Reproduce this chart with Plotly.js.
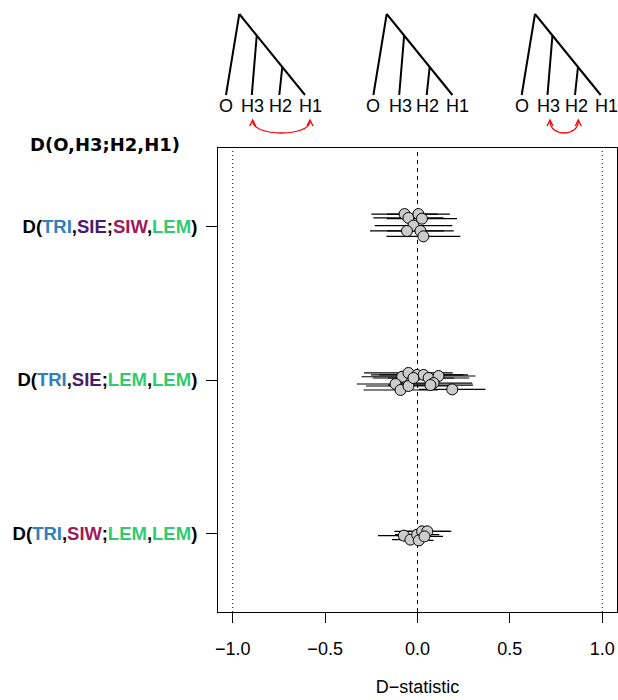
<!DOCTYPE html>
<html>
<head>
<meta charset="utf-8">
<script src="https://cdn.plot.ly/plotly-3.0.1.min.js"></script>
<style>html,body{margin:0;padding:0;background:#fff;}</style>
</head>
<body>
<div id="chart" style="width:618px;height:700px;"></div>
<script>
// ---- data ----
const groupPos = [3, 2, 1];
const outgroup = ['TRI', 'TRI', 'TRI'];
const h3 = ['SIE', 'SIE', 'SIW'];
const h2 = ['SIW', 'LEM', 'LEM'];
const h1 = ['LEM', 'LEM', 'LEM'];

// group 1: D(TRI,SIE;SIW,LEM)
const d1   = [-0.070, -0.049, 0.005, 0.024, -0.022, -0.057, 0.016, 0.032];
const jit1 = [0.080, 0.055, 0.080, 0.050, 0.005, -0.030, -0.030, -0.065];
const err1 = [0.18, 0.19, 0.17, 0.19, 0.21, 0.20, 0.18, 0.20];
// group 2: D(TRI,SIE;LEM,LEM)
const d2   = [-0.083, -0.049, -0.002, 0.033, 0.060, 0.114, 0.087, -0.119, -0.092, -0.049, -0.022, 0.070, 0.188];
const jit2 = [0.021, 0.046, 0.033, 0.033, 0.013, 0.026, -0.020, -0.026, -0.065, -0.039, 0.013, -0.033, -0.061];
const err2 = [0.22, 0.24, 0.25, 0.24, 0.22, 0.20, 0.21, 0.21, 0.20, 0.23, 0.22, 0.23, 0.18];
// group 3: D(TRI,SIW;LEM,LEM)
const d3   = [-0.074, -0.038, -0.002, 0.025, 0.053, 0.007, 0.038];
const jit3 = [-0.013, -0.039, -0.007, 0.015, 0.015, -0.044, -0.018];
const err3 = [0.14, 0.10, 0.12, 0.15, 0.13, 0.08, 0.10];

const xTicks = [-1.0, -0.5, 0.0, 0.5, 1.0];
const xTickText = ['\u22121.0', '\u22120.5', '0.0', '0.5', '1.0'];
const treeLeaves = ['O', 'H3', 'H2', 'H1'];

const taxonColor = {TRI: '#2f7fbb', SIE: '#4a1b6c', SIW: '#9c1c5b', LEM: '#2fcc6f'};

// ---- helpers ----
const W = 618, H = 700, L = 218, R = 1, T = 148, B = 88;
const pw = W - L - R, ph = H - T - B;
const px = x => (x - L) / pw;
const py = y => (H - B - y) / ph;

function col(t) { return '<span style="color:' + taxonColor[t] + '">' + t + '</span>'; }
const tickText = groupPos.map((g, i) =>
  '<b>D(' + col(outgroup[i]) + ',' + col(h3[i]) + ';' + col(h2[i]) + ',' + col(h1[i]) + ')</b>');

const groups = [[d1, jit1, err1], [d2, jit2, err2], [d3, jit3, err3]];
const traces = groups.map((g, i) => ({
  type: 'scatter', mode: 'markers',
  x: g[0], y: g[1].map(j => groupPos[i] + j),
  error_x: {type: 'data', symmetric: true, array: g[2], color: '#000', thickness: 1.2, width: 0},
  marker: {size: 11, color: '#cccccc', line: {color: '#000', width: 1}},
  hoverinfo: 'x', showlegend: false, cliponaxis: false
}));

const shapes = [];
// reference lines
[[-1, '1px,3px'], [1, '1px,3px'], [0, '4px,4px']].forEach(([v, d]) => shapes.push({
  type: 'line', xref: 'x', yref: 'paper', x0: v, x1: v, y0: 0, y1: 1,
  line: {color: '#000', width: 1, dash: d}, layer: 'below'
}));

// trees
const roots = [239.3, 386.7, 535.0];
const annotations = [];
roots.forEach(rx => {
  const top = 14, bot = 95;
  const lf = {O: rx - 13.3, H1: rx + 65.7};
  const diag = y => rx + (y - top) / (bot - top) * (lf.H1 - rx);
  const segs = [
    [rx, top, lf.O, bot],
    [rx, top, lf.H1, bot],
    [diag(35.5), 35.5, rx + 12.5, bot],
    [diag(67), 67, rx + 40, bot]
  ];
  segs.forEach(s => shapes.push({
    type: 'line', xref: 'paper', yref: 'paper',
    x0: px(s[0]), y0: py(s[1]), x1: px(s[2]), y1: py(s[3]),
    line: {color: '#000', width: 2}
  }));
  const lx = [rx - 13.4, rx + 13.6, rx + 41.0, rx + 71.0];
  treeLeaves.forEach((t, k) => annotations.push({
    xref: 'paper', yref: 'paper', x: px(lx[k]), y: py(106), text: t, showarrow: false,
    xanchor: 'center', yanchor: 'middle',
    font: {family: 'Liberation Sans, Arial, sans-serif', size: 18, color: '#000'}
  }));
});

// red double arrows (tree 1: H3<->H1, tree 3: H3<->H2)
function redArrow(xa, xb) {
  const y0 = 120, yc = 137;
  const p = (x, y) => px(x).toFixed(5) + ',' + py(y).toFixed(5);
  shapes.push({
    type: 'path', xref: 'paper', yref: 'paper',
    path: 'M' + p(xa, y0 + 1) + ' C' + p(xa, yc) + ' ' + p(xb, yc) + ' ' + p(xb, y0 + 1),
    line: {color: '#ff0000', width: 1.3}
  });
  [xa, xb].forEach(x => shapes.push({
    type: 'path', xref: 'paper', yref: 'paper',
    path: 'M' + p(x - 3, y0 + 6) + ' L' + p(x, y0) + ' L' + p(x + 3, y0 + 6),
    line: {color: '#ff0000', width: 1.3}
  }));
}
redArrow(252.7, 310.0);
redArrow(550.0, 578.3);

// header
annotations.push({
  xref: 'paper', yref: 'paper', x: px(105), y: py(144), text: '<b>D(O,H3;H2,H1)</b>',
  showarrow: false, xanchor: 'center', yanchor: 'middle',
  font: {family: 'DejaVu Sans, sans-serif', size: 18, color: '#000'}
});

const layout = {
  width: W, height: H,
  margin: {l: L, r: R, t: T, b: B, pad: 0},
  paper_bgcolor: '#fff', plot_bgcolor: '#fff',
  showlegend: false,
  xaxis: {
    range: [-1.08, 1.08], tickvals: xTicks, ticktext: xTickText,
    ticks: 'outside', ticklen: 10, tickwidth: 1, tickcolor: '#000',
    showline: true, mirror: true, linecolor: '#000', linewidth: 1,
    showgrid: false, zeroline: false, ticklabelstandoff: 10,
    tickfont: {family: 'Liberation Sans, Arial, sans-serif', size: 18, color: '#000'},
    title: {text: 'D\u2212statistic', standoff: 22,
      font: {family: 'Liberation Sans, Arial, sans-serif', size: 18, color: '#000'}}
  },
  yaxis: {
    range: [0.49, 3.51], tickvals: groupPos, ticktext: tickText,
    ticks: 'outside', ticklen: 11, tickwidth: 1, tickcolor: '#000',
    showline: true, mirror: true, linecolor: '#000', linewidth: 1,
    showgrid: false, zeroline: false, ticklabelstandoff: 5,
    tickfont: {family: 'Liberation Sans, Arial, sans-serif', size: 18.5, color: '#000'}
  },
  shapes: shapes,
  annotations: annotations
};

Plotly.newPlot('chart', traces, layout, {displayModeBar: false, staticPlot: true});
</script>
</body>
</html>
